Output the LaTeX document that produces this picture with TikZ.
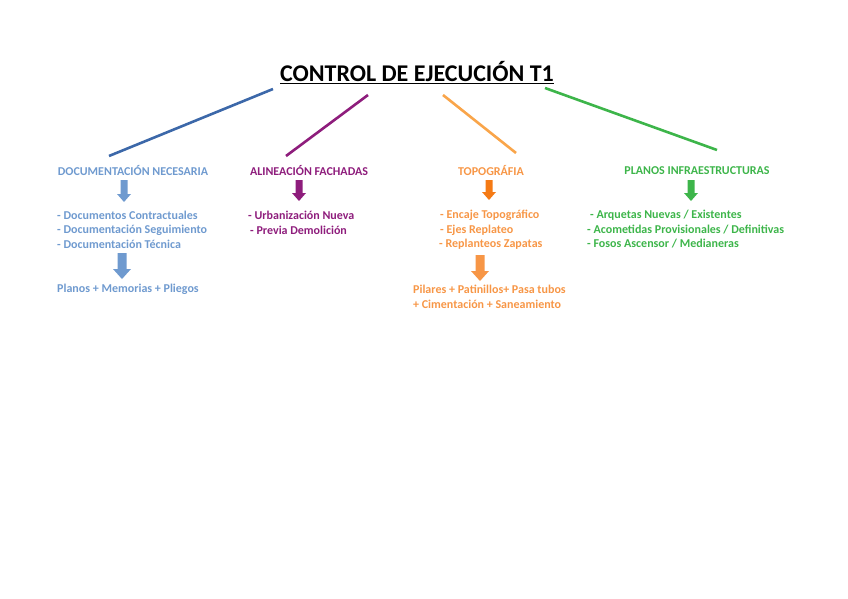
\documentclass[tikz,border=0pt]{standalone}
\usepackage{fontspec}
\setmainfont{Carlito}
\definecolor{docblue}{HTML}{6F9ACF}
\definecolor{docline}{HTML}{3C68A9}
\definecolor{facpurple}{HTML}{8E1D7C}
\definecolor{toporange}{HTML}{F79646}
\definecolor{topline}{HTML}{F9A54A}
\definecolor{toparrow}{HTML}{F57A14}
\definecolor{infgreen}{HTML}{3DB54A}
\tikzset{
  head/.style={font=\fontsize{12}{14}\selectfont\bfseries,inner sep=0pt},
  item/.style={font=\fontsize{12}{14}\selectfont\bfseries,inner sep=0pt,anchor=west},
  branch/.style={line width=2.6pt}
}
% block arrow pointing down: colour, x, top, bottom, shaft half width, head half width, head length
\newcommand\downarr[7]{%
  \fill[#1] (#2-#5,#3) -- (#2+#5,#3) -- (#2+#5,#4-#7) -- (#2+#6,#4-#7) -- (#2,#4)
    -- (#2-#6,#4-#7) -- (#2-#5,#4-#7) -- cycle;}
\begin{document}
\begin{tikzpicture}[x=1pt,y=-1pt]
\useasboundingbox (0,0) rectangle (848,599);
\node[font=\fontsize{24}{28}\selectfont\bfseries,inner sep=0pt] (title) at (417,73) {\underline{CONTROL DE EJECUCIÓN T1}};
% branches
\coordinate (b1) at (273,89);  \coordinate (e1) at (109,156);
\coordinate (b2) at (368,95);  \coordinate (e2) at (286,156);
\coordinate (b3) at (443,95);  \coordinate (e3) at (516,153);
\coordinate (b4) at (545,88);  \coordinate (e4) at (717,150);
\draw[branch,docline] (b1) -- (e1);
\draw[branch,facpurple] (b2) -- (e2);
\draw[branch,topline] (b3) -- (e3);
\draw[branch,infgreen] (b4) -- (e4);
% headings
\node[head,docblue] (doc) at (133,171) {DOCUMENTACIÓN NECESARIA};
\node[head,facpurple] (fac) at (309,171) {ALINEACIÓN FACHADAS};
\node[head,toporange] (top) at (491,171) {TOPOGRÁFIA};
\node[head,infgreen] (inf) at (697,171) {PLANOS INFRAESTRUCTURAS};
% arrows
\downarr{docblue}{124}{180}{202}{3.5}{7}{8}
\downarr{facpurple}{299}{180}{201}{3.5}{7}{8}
\downarr{toparrow}{489}{180}{200}{3.5}{7}{8}
\downarr{infgreen}{691}{180}{201}{3.5}{7}{8}
\downarr{docblue}{122}{253}{279}{4.5}{9}{10}
\downarr{toporange}{480}{255}{281}{4.5}{9}{10}
% items
\node[item,docblue] (doc1) at (57,215) {- Documentos Contractuales};
\node[item,docblue] (doc2) at (57,230) {- Documentación Seguimiento};
\node[item,docblue] (doc3) at (57,244) {- Documentación Técnica};
\node[item,docblue] (doc4) at (57,289) {Planos + Memorias + Pliegos};
\node[item,facpurple] (fac1) at (248,215) {- Urbanización Nueva};
\node[item,facpurple] (fac2) at (250,230) {- Previa Demolición};
\node[item,toporange] (top1) at (440,215) {- Encaje Topográfico};
\node[item,toporange] (top2) at (440,230) {- Ejes Replateo};
\node[item,toporange] (top3) at (439,244) {- Replanteos Zapatas};
\node[item,toporange] (top4) at (413,289) {Pilares + Patinillos+ Pasa tubos};
\node[item,toporange] (top5) at (413,304) {+ Cimentación + Saneamiento};
\node[item,infgreen] (inf1) at (590,215) {- Arquetas Nuevas / Existentes};
\node[item,infgreen] (inf2) at (587,230) {- Acometidas Provisionales / Definitivas};
\node[item,infgreen] (inf3) at (587,244) {- Fosos Ascensor / Medianeras};
\end{tikzpicture}
\end{document}
